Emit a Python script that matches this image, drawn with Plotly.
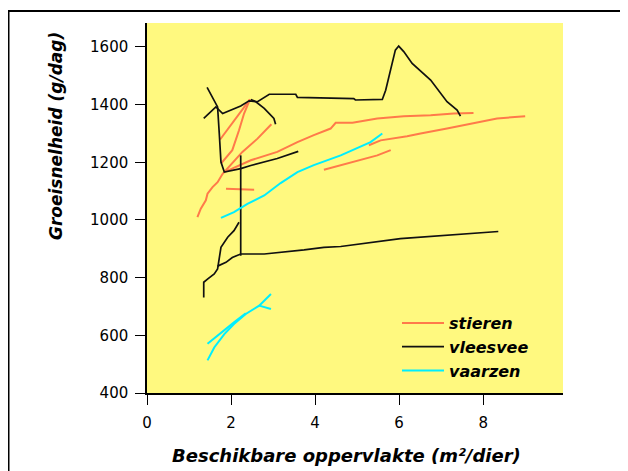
import plotly.graph_objects as go

# ---- data (x = m2/dier, y = g/dag), one sub-list per study line ----
stieren_x = [
    [1.20, 1.28, 1.40, 1.44, 1.56, 1.68, 1.80, 2.27, 2.63, 2.96],
    [1.84, 2.47, 3.10, 3.58, 3.97, 4.37, 4.49, 4.89, 5.48, 6.11, 6.75, 7.30, 7.77],
    [1.76, 2.03, 2.19, 2.31, 2.45],
    [1.74, 2.05, 2.39, 2.45],
    [5.28, 5.56, 6.19, 6.51, 7.14, 7.70, 8.33, 9.00],
    [4.21, 4.61, 5.08, 5.48, 5.80],
    [1.88, 2.55],
]
stieren_y = [
    [1010, 1039, 1068, 1091, 1114, 1131, 1160, 1236, 1282, 1332],
    [1166, 1207, 1236, 1270, 1294, 1317, 1337, 1337, 1352, 1360, 1363, 1369, 1371],
    [1195, 1242, 1311, 1369, 1418],
    [1279, 1340, 1404, 1418],
    [1259, 1276, 1290, 1300, 1317, 1334, 1352, 1360],
    [1174, 1190, 1207, 1224, 1242],
    [1108, 1105],
]

vleesvee_x = [
    [1.43, 1.56, 1.68, 1.72, 1.76, 1.84, 2.23, 2.47, 3.10, 3.60],
    [1.35, 1.64, 1.80, 2.23, 2.43, 2.63, 2.91, 3.54, 3.58, 4.92, 4.96, 5.60, 5.68, 5.91, 5.99, 6.11, 6.31, 6.75, 7.14, 7.38, 7.46],
    [2.47, 2.59, 2.79, 2.90, 3.02, 3.06],
    [1.35, 1.35, 1.44, 1.60, 1.68, 1.76, 1.92, 2.07, 2.19],
    [1.68, 1.88, 2.03, 2.23, 2.79, 3.26, 3.74, 4.21, 4.61, 6.03, 8.36],
    [2.23, 2.23],
]
vleesvee_y = [
    [1460, 1427, 1392, 1300, 1201, 1166, 1178, 1189, 1213, 1238],
    [1352, 1392, 1369, 1395, 1413, 1410, 1436, 1436, 1425, 1421, 1416, 1418, 1450, 1589, 1603, 1584, 1543, 1485, 1410, 1381, 1360],
    [1418, 1410, 1387, 1369, 1352, 1332],
    [731, 784, 795, 813, 830, 905, 940, 963, 992],
    [840, 853, 870, 882, 882, 888, 896, 905, 908, 935, 960],
    [1224, 876],
]

vaarzen_x = [
    [1.76, 2.07, 2.39, 2.79, 3.18, 3.58, 3.97, 4.61, 5.32, 5.60],
    [1.44, 1.60, 1.84, 2.07, 2.35, 2.67, 2.95],
    [1.44, 1.60, 1.80, 2.07, 2.35],
    [2.67, 2.95],
]
vaarzen_y = [
    [1007, 1027, 1056, 1085, 1128, 1166, 1190, 1224, 1270, 1300],
    [513, 558, 604, 639, 674, 703, 743],
    [571, 590, 616, 645, 676],
    [703, 691],
]

x_ticks = [0, 2, 4, 6, 8]
y_ticks = [400, 600, 800, 1000, 1200, 1400, 1600]


def join(parts):
    out = []
    for i, p in enumerate(parts):
        if i:
            out.append(None)
        out.extend(p)
    return out


series = [
    ("stieren", stieren_x, stieren_y, "#ff7a4a", 2),
    ("vleesvee", vleesvee_x, vleesvee_y, "#111111", 1.7),
    ("vaarzen", vaarzen_x, vaarzen_y, "#00eeff", 2),
]

fig = go.Figure()
for name, xs, ys, col, w in series:
    fig.add_trace(go.Scatter(
        x=join(xs), y=join(ys), mode="lines", name=name,
        line=dict(color=col, width=w),
        connectgaps=False,
    ))

OFF = 8  # page body margin
W, H = 620, 463
L, T = 147 - OFF, 23 - OFF
R = W - (563 - OFF)
B = H - (393 - OFF)
pw, ph = W - L - R, H - T - B


def fig2paper(fx, fy):
    return (fx - L) / pw, (H - B - fy) / ph


def page2paper(px, py):
    return fig2paper(px - OFF, py - OFF)


fx0, fy1 = fig2paper(0.5, 11 - OFF)
fx1, fy0 = fig2paper(700, 520)

title_font = dict(family="DejaVu Sans", color="black", weight="bold", style="italic")

fig.update_layout(
    width=W, height=H,
    margin=dict(l=L, r=R, t=T, b=B),
    paper_bgcolor="white",
    plot_bgcolor="#fff97f",
    showlegend=True,
    legend=dict(
        x=fig2paper(389, 0)[0], y=fig2paper(0, 298)[1],
        xanchor="left", yanchor="top",
        bgcolor="rgba(0,0,0,0)",
        font=dict(title_font, size=16),
        itemwidth=42, tracegroupgap=0,
    ),
    xaxis=dict(
        range=[0, 9.9], tickvals=x_ticks, ticks="outside", ticklen=10,
        tickcolor="black", showline=True, linecolor="black", linewidth=1.5,
        showgrid=False, zeroline=False, mirror=False,
        tickfont=dict(family="DejaVu Sans", size=15, color="black"),
        ticklabelstandoff=5,
    ),
    yaxis=dict(
        range=[400, 1683], tickvals=y_ticks, ticks="outside", ticklen=10,
        tickcolor="black", showline=True, linecolor="black", linewidth=1.5,
        showgrid=False, zeroline=False,
        tickfont=dict(family="DejaVu Sans", size=15, color="black"),
        ticklabelstandoff=4,
    ),
    shapes=[dict(type="rect", xref="paper", yref="paper",
                 x0=fx0, x1=fx1, y0=fy0, y1=fy1,
                 line=dict(color="black", width=2), fillcolor="rgba(0,0,0,0)",
                 layer="below")],
    annotations=[
        dict(text="Beschikbare oppervlakte (m²/dier)", xref="paper", yref="paper",
             x=page2paper(346, 0)[0], y=page2paper(0, 455)[1], showarrow=False,
             xanchor="center", yanchor="middle",
             font=dict(title_font, size=18)),
        dict(text="Groeisnelheid (g/dag)", xref="paper", yref="paper",
             x=page2paper(56, 0)[0], y=page2paper(0, 136)[1], showarrow=False,
             textangle=-90, xanchor="center", yanchor="middle",
             font=dict(title_font, size=17)),
    ],
)

fig.write_html("out.html")
